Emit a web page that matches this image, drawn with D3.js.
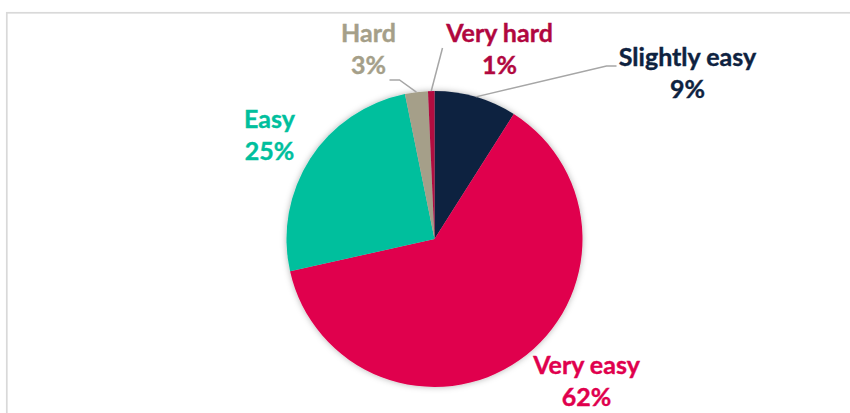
<!DOCTYPE html>
<html>
<head>
<meta charset="utf-8">
<script src="https://cdn.jsdelivr.net/npm/d3@7"></script>
<style>
  body { margin: 0; background: #fff; }
  svg { display: block; }
  .lbl { font-family: Lato, "Open Sans", sans-serif; font-weight: 700; font-size: 25px; stroke-width: 0.4px; }
</style>
</head>
<body>
<svg></svg>
<script>
(function () {
  var width = 850;
  var height = 413;

  // data (clockwise from 12 o'clock)
  var categories = ["Slightly easy", "Very easy", "Easy", "Hard", "Very hard"];
  var values = [9.0, 62.5, 25.3, 2.5, 0.7];
  var shown = ["9%", "62%", "25%", "3%", "1%"];
  var colors = ["#0E2240", "#E0004D", "#00BF9D", "#A59F89", "#B1073F"];

  // label layout: text centre and leader elbow/end, relative to pie centre
  var labelPos = [
    {x: 253, y: -173, elbow: [172, -173], end: [182, -173]},
    {x: 152, y: 135, elbow: null, end: null},
    {x: -165, y: -111, elbow: null, end: null},
    {x: -66, y: -197, elbow: [-35, -159], end: [-45, -159]},
    {x: 65, y: -197, elbow: null, end: [8, -191]}
  ];

  var cx = 434.5, cy = 239, radius = 148;

  var svg = d3.select("svg")
    .attr("width", width)
    .attr("height", height);

  // frame
  svg.append("rect")
    .attr("x", 6.8).attr("y", 12.8)
    .attr("width", 900).attr("height", 500)
    .attr("fill", "none")
    .attr("stroke", "#D9D9D9")
    .attr("stroke-width", 1.7);

  var defs = svg.append("defs");
  defs.append("filter")
    .attr("id", "shadow")
    .attr("x", "-20%").attr("y", "-20%")
    .attr("width", "140%").attr("height", "140%")
    .append("feDropShadow")
    .attr("dx", 0).attr("dy", 0)
    .attr("stdDeviation", 3)
    .attr("flood-color", "#000")
    .attr("flood-opacity", 0.3);

  var data = categories.map(function (c, i) {
    return {name: c, value: values[i], text: shown[i], color: colors[i], pos: labelPos[i]};
  });

  var pie = d3.pie().sort(null).value(function (d) { return d.value; });
  var arc = d3.arc().innerRadius(0).outerRadius(radius);
  var arcs = pie(data);

  var g = svg.append("g").attr("transform", "translate(" + cx + "," + cy + ")");

  g.append("g")
    .attr("filter", "url(#shadow)")
    .selectAll("path")
    .data(arcs)
    .enter().append("path")
    .attr("d", arc)
    .attr("fill", function (d) { return d.data.color; });

  // leader lines
  g.selectAll(".leader")
    .data(arcs.filter(function (d) { return d.data.pos.end; }))
    .enter().append("polyline")
    .attr("class", "leader")
    .attr("fill", "none")
    .attr("stroke", "#A6A6A6")
    .attr("stroke-width", 1.5)
    .attr("points", function (d) {
      var a = (d.startAngle + d.endAngle) / 2;
      var p = [Math.sin(a) * radius, -Math.cos(a) * radius];
      var pts = [p];
      if (d.data.pos.elbow) pts.push(d.data.pos.elbow);
      pts.push(d.data.pos.end);
      return pts.map(function (q) { return q.join(","); }).join(" ");
    });

  var labels = g.selectAll(".lbl")
    .data(arcs)
    .enter().append("text")
    .attr("class", "lbl")
    .attr("text-anchor", "middle")
    .attr("fill", function (d) { return d.data.color; })
    .attr("stroke", function (d) { return d.data.color; })
    .attr("transform", function (d) { return "translate(" + d.data.pos.x + "," + d.data.pos.y + ")"; });

  labels.append("tspan")
    .attr("x", 0).attr("y", 0)
    .text(function (d) { return d.data.name; });
  labels.append("tspan")
    .attr("x", 0).attr("y", 31.5)
    .text(function (d) { return d.data.text; });
})();
</script>
</body>
</html>
